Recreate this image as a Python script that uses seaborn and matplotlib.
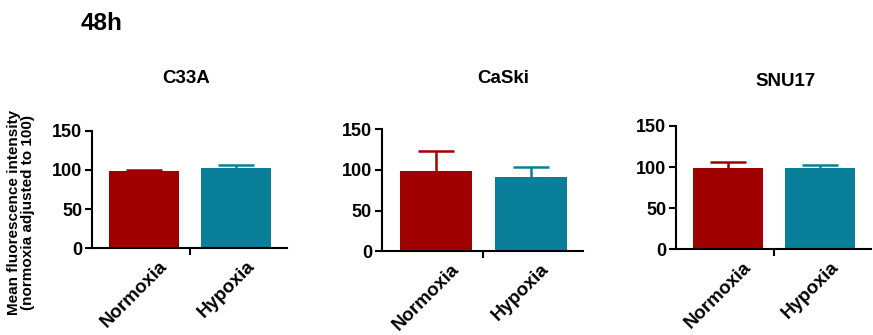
import matplotlib
matplotlib.use("Agg")
import matplotlib.pyplot as plt
import matplotlib.transforms as mtransforms
import seaborn as sns
import pandas as pd

# Mean fluorescence intensity at 48h, normoxia adjusted to 100
cell_lines = ["C33A", "CaSki", "SNU17"]
conditions = ["Normoxia", "Hypoxia"]
means = {
    "C33A": [99, 103],
    "CaSki": [98, 91],
    "SNU17": [98.5, 98.5],
}
errors = {
    "C33A": [1.5, 3.5],
    "CaSki": [24.5, 12.5],
    "SNU17": [7.5, 3.5],
}
colors = ["#A00000", "#0A7F99"]

sns.set_theme(style="white")
plt.rcParams["font.family"] = ["Liberation Sans", "DejaVu Sans"]
plt.rcParams["font.weight"] = "bold"
plt.rcParams["text.color"] = "black"
plt.rcParams["xtick.color"] = "black"
plt.rcParams["ytick.color"] = "black"
plt.rcParams["axes.labelcolor"] = "black"

fig = plt.figure(figsize=(8.73, 3.35), dpi=100)

W, H = 873, 335
# axes boxes in pixels: left, right, bottom(y=0), top(y=150)
boxes = [
    (92, 287, 248.3, 130.7),
    (381.7, 583, 251.3, 129),
    (676, 871, 249.3, 126),
]
# panel title placement in pixels (centre x, baseline y)
title_pos = [(186, 83), (503, 83), (786, 86)]

for line, (l, r, b, t), (tx, ty) in zip(cell_lines, boxes, title_pos):
    ax = fig.add_axes([l / W, 1 - b / H, (r - l) / W, (b - t) / H])
    df = pd.DataFrame({"condition": conditions, "value": means[line]})
    sns.barplot(data=df, x="condition", y="value", hue="condition",
                palette=colors, width=0.76, errorbar=None, legend=False,
                saturation=1, linewidth=0, ax=ax, zorder=2)
    # upper-only error bars with a single cap
    for i, (m, e) in enumerate(zip(means[line], errors[line])):
        eb = ax.errorbar(i, m, yerr=[[0], [e]], color=colors[i], capsize=13,
                         elinewidth=1.8, capthick=1.8, zorder=1)
        for cap in eb[1]:
            if abs(cap.get_ydata()[0] - m) < 1e-9:
                cap.set_visible(False)
    ax.set_xlim(-0.57, 1.55)
    ax.set_ylim(0, 150)
    ax.set_yticks([0, 50, 100, 150])
    ax.set_xlabel("")
    ax.set_ylabel("")
    for s in ["top", "right"]:
        ax.spines[s].set_visible(False)
    for s in ["left", "bottom"]:
        ax.spines[s].set_linewidth(1.5)
        ax.spines[s].set_color("black")
    ax.tick_params(axis="y", length=5, width=1.5, direction="out", pad=2,
                   labelsize=13, left=True, colors="black")
    ax.set_xticks([0.5], minor=True)
    ax.tick_params(axis="x", which="minor", length=5, width=1.5,
                   direction="out", bottom=True, colors="black")
    ax.tick_params(axis="x", which="major", length=0, pad=7, labelsize=13.5,
                   colors="black")
    offset = mtransforms.ScaledTranslation(-10 / 100, 0, fig.dpi_scale_trans)
    for lab in ax.get_xticklabels():
        lab.set_rotation(45)
        lab.set_ha("center")
        lab.set_va("top")
        lab.set_fontweight("bold")
        lab.set_transform(lab.get_transform() + offset)
    for lab in ax.get_yticklabels():
        lab.set_fontweight("bold")
    ax.grid(False)
    fig.text(tx / W, 1 - ty / H, line, fontsize=13.5, fontweight="bold",
             ha="center", va="baseline", color="black")

fig.text(81 / W, 1 - 24 / H, "48h", fontsize=17.5, fontweight="bold",
         ha="left", va="center", color="black")
fig.text(21 / W, 1 - 212 / H,
         "Mean fluorescence intensity\n(normoxia adjusted to 100)",
         rotation=90, fontsize=11, fontweight="bold", ha="center",
         va="center", multialignment="center", linespacing=1.0,
         color="black")

fig.savefig("out.png", dpi=100)
